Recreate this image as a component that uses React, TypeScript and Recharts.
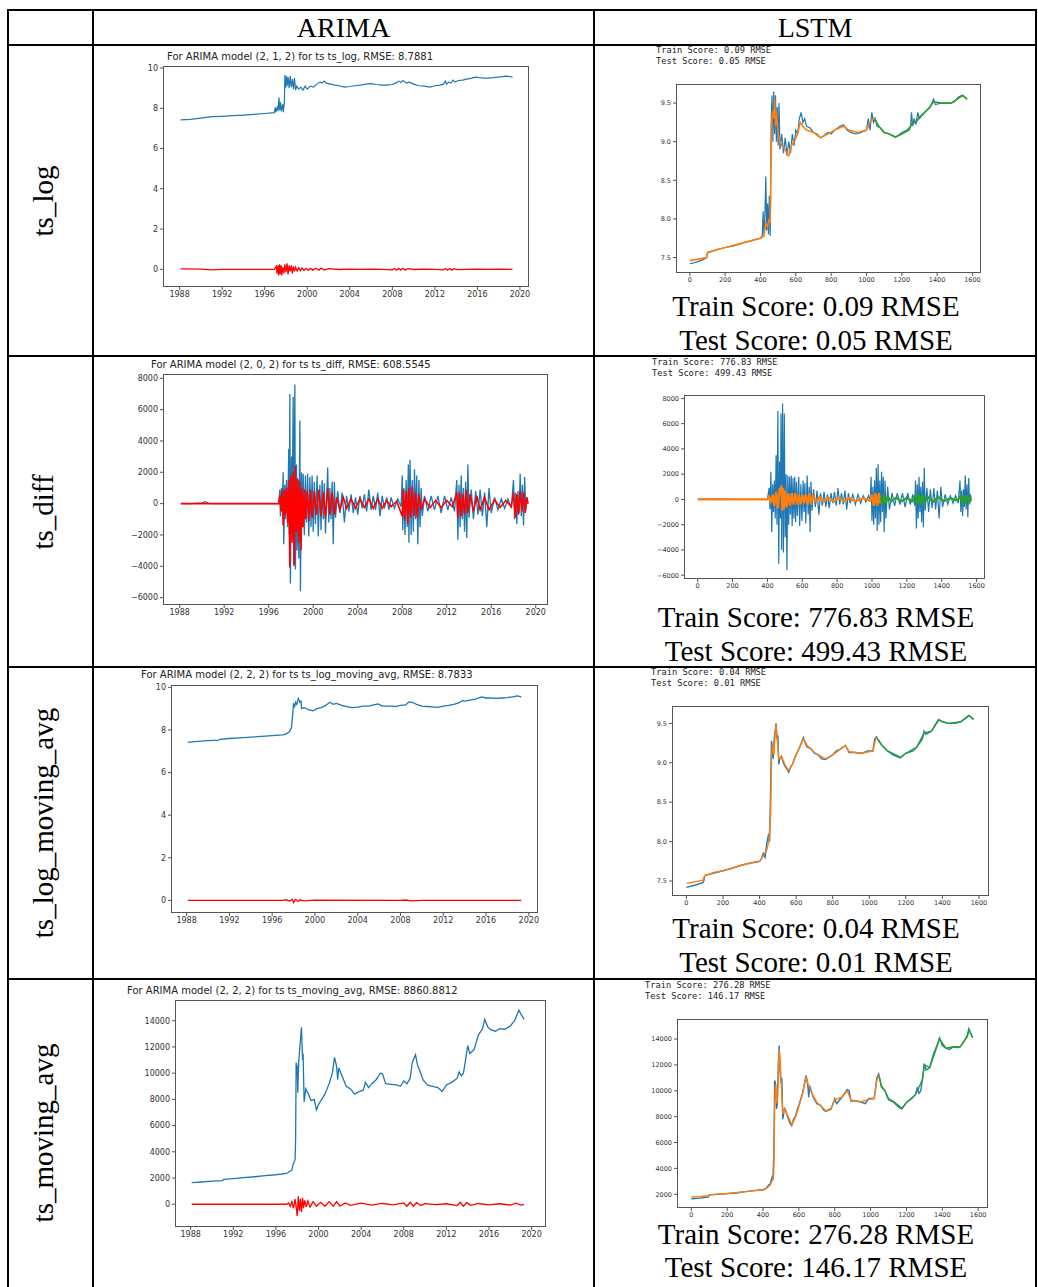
import { LineChart, Line, XAxis, YAxis } from 'recharts'

type Pt = [number, number]

const BLUE = '#1f77b4'
const ORANGE = '#ff7f0e'
const GREEN = '#2ca02c'
const RED = '#ff0000'

// table labels
const columnNames = ['ARIMA', 'LSTM']
const rowNames = ['ts_log', 'ts_diff', 'ts_log_moving_avg', 'ts_moving_avg']
const arimaTitles = [
  'For ARIMA model (2, 1, 2) for ts ts_log, RMSE: 8.7881',
  'For ARIMA model (2, 0, 2) for ts ts_diff, RMSE: 608.5545',
  'For ARIMA model (2, 2, 2) for ts ts_log_moving_avg, RMSE: 8.7833',
  'For ARIMA model (2, 2, 2) for ts ts_moving_avg, RMSE: 8860.8812',
]
const trainScores = ['0.09', '776.83', '0.04', '276.28']
const testScores = ['0.05', '499.43', '0.01', '146.17']

// ticks
const yearTicks = [1988, 1992, 1996, 2000, 2004, 2008, 2012, 2016, 2020]
const indexTicks = [0, 200, 400, 600, 800, 1000, 1200, 1400, 1600]
const logTicks = [0, 2, 4, 6, 8, 10]
const diffTicks = [-6000, -4000, -2000, 0, 2000, 4000, 6000, 8000]
const lstmLogTicks = [7.5, 8.0, 8.5, 9.0, 9.5]
const priceTicks = [0, 2000, 4000, 6000, 8000, 10000, 12000, 14000]
const lstmPriceTicks = [2000, 4000, 6000, 8000, 10000, 12000, 14000]

// ---- row 1: ts_log
const arimaLogActual: Pt[] = [
  [1988.1, 7.42], [1989, 7.45], [1989.8, 7.5], [1990.5, 7.55], [1991, 7.58], [1992, 7.6], [1993, 7.63],
  [1994, 7.66], [1995, 7.7], [1996, 7.74], [1996.9, 7.78], [1997.0, 8.05], [1997.05, 7.8], [1997.2, 8.1],
  [1997.25, 7.85], [1997.35, 8.55], [1997.4, 7.9], [1997.5, 8.3], [1997.55, 7.85], [1997.7, 8.2],
  [1997.75, 7.8], [1997.85, 8.3], [1997.9, 9.65], [1997.95, 9.0], [1998.05, 9.6], [1998.1, 9.1],
  [1998.2, 9.55], [1998.3, 9.0], [1998.4, 9.6], [1998.5, 9.05], [1998.6, 9.45], [1998.7, 8.95],
  [1998.8, 9.5], [1998.9, 8.9], [1999.0, 9.1], [1999.2, 8.95], [1999.4, 9.05], [1999.6, 8.9],
  [1999.8, 9.1], [2000, 8.95], [2000.3, 9.1], [2000.6, 9.05], [2000.9, 9.2], [2001.2, 9.3],
  [2001.4, 9.25], [2001.6, 9.35], [2001.8, 9.25], [2002.2, 9.2], [2002.6, 9.15], [2003, 9.12],
  [2003.5, 9.05], [2004, 9.08], [2004.5, 9.12], [2005, 9.15], [2005.5, 9.2], [2006, 9.22],
  [2006.5, 9.18], [2007, 9.15], [2007.5, 9.15], [2008, 9.18], [2008.3, 9.25], [2008.6, 9.35],
  [2008.8, 9.28], [2009, 9.38], [2009.3, 9.25], [2009.6, 9.3], [2010, 9.2], [2010.5, 9.12],
  [2011, 9.1], [2011.5, 9.05], [2012, 9.12], [2012.5, 9.15], [2012.8, 9.2], [2013, 9.35],
  [2013.1, 9.2], [2013.3, 9.3], [2013.5, 9.25], [2013.7, 9.4], [2013.9, 9.3], [2014.2, 9.38],
  [2014.6, 9.4], [2015, 9.45], [2015.5, 9.5], [2015.8, 9.55], [2016.2, 9.52], [2016.6, 9.5],
  [2017, 9.5], [2017.5, 9.52], [2018, 9.55], [2018.5, 9.58], [2018.8, 9.6], [2019, 9.58], [2019.3, 9.55],
]
const arimaLogFitted: Pt[] = [
  [1988.1, 0.02], [1990, 0.01], [1991, -0.03], [1992, 0], [1996.9, 0], [1997.1, 0.15], [1997.15, -0.2],
  [1997.25, 0.2], [1997.3, -0.3], [1997.4, 0.25], [1997.45, -0.25], [1997.55, 0.2], [1997.6, -0.3],
  [1997.7, 0.1], [1997.8, -0.2], [1997.9, 0.25], [1998, -0.15], [1998.1, 0.3], [1998.2, -0.25],
  [1998.3, 0.2], [1998.4, -0.1], [1998.5, 0.2], [1998.6, -0.2], [1998.7, 0.15], [1998.8, -0.1],
  [1998.9, 0.1], [1999.05, -0.08], [1999.2, 0.08], [1999.35, -0.07], [1999.5, 0.06], [1999.7, -0.05],
  [1999.9, 0.05], [2000.1, -0.05], [2000.3, 0.05], [2000.5, -0.04], [2000.8, 0.05], [2001.1, -0.04],
  [2001.3, 0.06], [2001.6, -0.04], [2002, 0.03], [2003, -0.01], [2004, 0.01], [2005, 0], [2006, 0.01],
  [2007, 0], [2008, -0.03], [2008.2, 0.04], [2008.4, -0.04], [2008.6, 0.05], [2008.8, -0.04],
  [2009, 0.05], [2009.2, -0.03], [2009.5, 0.03], [2010, -0.01], [2011, 0.01], [2012, 0],
  [2012.8, -0.03], [2013, 0.04], [2013.2, -0.04], [2013.4, 0.04], [2013.6, -0.04], [2013.8, 0.03],
  [2014.1, -0.02], [2015, 0], [2016, 0.01], [2017, 0], [2018, 0.01], [2019, 0], [2019.3, 0.01],
]
const lstmLogActual: Pt[] = [
  [0, 7.42], [20, 7.43], [50, 7.45], [80, 7.48], [95, 7.5], [100, 7.57], [150, 7.6], [200, 7.63],
  [250, 7.65], [300, 7.69], [350, 7.72], [400, 7.75], [410, 7.78], [415, 8.1], [420, 7.8], [425, 8.05],
  [430, 8.55], [435, 7.85], [440, 8.2], [445, 7.8], [450, 8.3], [455, 7.78], [460, 9.2], [465, 9.6],
  [470, 9.0], [475, 9.65], [480, 9.1], [485, 9.6], [490, 9.0], [495, 9.45], [500, 8.95], [505, 9.5],
  [510, 8.9], [520, 9.1], [530, 8.85], [540, 9.05], [550, 8.82], [560, 9.0], [570, 8.85], [580, 9.1],
  [590, 8.95], [600, 9.15], [610, 9.1], [620, 9.3], [630, 9.38], [640, 9.25], [650, 9.3], [660, 9.2],
  [680, 9.18], [700, 9.12], [720, 9.1], [740, 9.05], [760, 9.08], [780, 9.12], [800, 9.1], [820, 9.15],
  [850, 9.2], [870, 9.22], [890, 9.15], [910, 9.12], [940, 9.1], [970, 9.12], [1000, 9.15], [1010, 9.3],
  [1020, 9.15], [1030, 9.38], [1040, 9.25], [1050, 9.3], [1060, 9.2], [1080, 9.18], [1100, 9.12],
  [1130, 9.1], [1160, 9.06], [1180, 9.08], [1200, 9.12], [1230, 9.15], [1250, 9.2], [1255, 9.38],
  [1262, 9.2], [1270, 9.3], [1280, 9.22], [1290, 9.38], [1300, 9.3], [1330, 9.38], [1360, 9.45],
  [1380, 9.55], [1390, 9.48], [1420, 9.5], [1450, 9.5], [1480, 9.5], [1500, 9.52], [1520, 9.58],
  [1540, 9.6], [1555, 9.58], [1570, 9.55],
]
const lstmLogTrain: Pt[] = [
  [0, 7.46], [50, 7.48], [95, 7.5], [100, 7.56], [150, 7.6], [200, 7.63], [300, 7.69], [400, 7.75],
  [420, 7.78], [430, 7.95], [440, 7.9], [450, 8.0], [455, 7.95], [460, 8.8], [465, 9.3], [470, 9.4],
  [475, 9.3], [480, 9.55], [485, 9.2], [490, 9.4], [500, 9.1], [510, 9.0], [520, 8.95], [540, 8.9],
  [550, 8.85], [560, 8.82], [575, 8.95], [590, 9.0], [610, 9.1], [625, 9.25], [640, 9.2], [660, 9.15],
  [700, 9.12], [740, 9.05], [780, 9.1], [820, 9.15], [870, 9.2], [900, 9.15], [950, 9.12], [1000, 9.15],
  [1020, 9.25], [1040, 9.3], [1045, 9.32],
]
const lstmLogTest: Pt[] = [
  [1050, 9.28], [1070, 9.2], [1100, 9.12], [1130, 9.1], [1165, 9.06], [1200, 9.1], [1240, 9.15],
  [1260, 9.25], [1280, 9.25], [1300, 9.32], [1330, 9.38], [1360, 9.45], [1380, 9.52], [1420, 9.5],
  [1480, 9.5], [1520, 9.56], [1545, 9.6], [1570, 9.55],
]

// ---- row 2: ts_diff
const arimaDiffActual: Pt[] = [
  [1988.1, 0], [1989, 0], [1990, 50], [1990.3, 120], [1990.6, 20], [1991, 0], [1996.9, 0],
  [1997.0, 900], [1997.05, -800], [1997.15, 1000], [1997.2, -500], [1997.3, 2000], [1997.35, -2600],
  [1997.45, 1200], [1997.5, -1000], [1997.6, 1500], [1997.7, -1500], [1997.8, 3500], [1997.85, -2000],
  [1997.9, 7000], [1997.95, -5100], [1998.05, 3000], [1998.1, -1500], [1998.2, 6800], [1998.25, -4000],
  [1998.35, 7600], [1998.4, -4200], [1998.5, 2500], [1998.55, -3000], [1998.65, 1500], [1998.7, -3500],
  [1998.8, 5300], [1998.85, -5600], [1998.95, 2000], [1999.0, -1500], [1999.1, 1900], [1999.2, -2000],
  [1999.3, 1800], [1999.4, -1200], [1999.5, 1900], [1999.6, -2100], [1999.7, 1700], [1999.8, -1500],
  [1999.9, 1800], [2000, -1800], [2000.1, 1400], [2000.2, -1300], [2000.35, 1800], [2000.45, -2100],
  [2000.6, 1200], [2000.7, -1700], [2000.8, 1500], [2000.9, -1000], [2001.0, 1300], [2001.1, -1900],
  [2001.3, 2300], [2001.4, -1200], [2001.5, 1000], [2001.6, -1000], [2001.7, 1400], [2001.8, -2600],
  [2001.9, 1400], [2002.0, -900], [2002.2, 800], [2002.4, -600], [2002.6, 700], [2002.8, -1200],
  [2003, 500], [2003.2, -500], [2003.4, 600], [2003.6, -600], [2003.8, 400], [2004, -700], [2004.2, 500],
  [2004.4, -300], [2004.6, 600], [2004.8, -500], [2005.0, 900], [2005.2, -400], [2005.4, 500],
  [2005.6, -400], [2005.8, 700], [2006, -800], [2006.2, 500], [2006.4, -300], [2006.6, 400],
  [2006.8, -400], [2007, 400], [2007.3, -300], [2007.6, 300], [2007.9, -200], [2008.0, 1800],
  [2008.05, -1700], [2008.15, 1000], [2008.25, -2000], [2008.35, 1500], [2008.45, -1500], [2008.55, 2500],
  [2008.6, -2500], [2008.7, 2800], [2008.8, -2000], [2008.9, 1500], [2009.0, -1800], [2009.1, 2200],
  [2009.2, -1000], [2009.3, 1800], [2009.4, -2600], [2009.5, 1500], [2009.6, -1500], [2009.7, 1000],
  [2009.8, -800], [2010, 500], [2010.3, -500], [2010.6, 500], [2010.9, -400], [2011.2, 500],
  [2011.5, -600], [2011.8, 500], [2012.1, -400], [2012.4, 400], [2012.7, -500], [2012.9, 1500],
  [2013.0, -2300], [2013.1, 1200], [2013.2, -1500], [2013.3, 1800], [2013.4, -1000], [2013.5, 1000],
  [2013.6, -1800], [2013.7, 1400], [2013.8, -2200], [2013.9, 2500], [2014.0, -900], [2014.2, 900],
  [2014.4, -1000], [2014.6, 800], [2014.8, -700], [2015, 900], [2015.2, -800], [2015.4, 700],
  [2015.6, -1500], [2015.8, 1000], [2016, -600], [2016.3, 400], [2016.6, -400], [2016.9, 300],
  [2017.2, -300], [2017.5, 300], [2017.8, -300], [2018.0, 1500], [2018.1, -1000], [2018.2, 700],
  [2018.3, -1300], [2018.4, 800], [2018.5, -600], [2018.6, 1900], [2018.7, -800], [2018.8, 1200],
  [2018.9, -1400], [2019.0, 1700], [2019.1, -400], [2019.2, 400], [2019.3, 0],
]
const arimaDiffFitted: Pt[] = [
  [1988.1, 0], [1996.9, 0], [1997.0, 500], [1997.1, -500], [1997.2, 800], [1997.3, -1400], [1997.4, 900],
  [1997.5, -700], [1997.6, 1000], [1997.7, -1200], [1997.8, 1500], [1997.9, -4100], [1998.0, 1800],
  [1998.1, -2500], [1998.2, 2000], [1998.3, -3900], [1998.4, 2400], [1998.5, -1800], [1998.6, 1600],
  [1998.7, -2500], [1998.8, 1400], [1998.9, -3000], [1999.0, 1000], [1999.1, -1500], [1999.2, 900],
  [1999.3, -1000], [1999.45, 800], [1999.6, -1100], [1999.75, 900], [1999.9, -900], [2000.1, 800],
  [2000.3, -700], [2000.5, 900], [2000.7, -800], [2000.9, 700], [2001.1, -900], [2001.3, 1000],
  [2001.5, -700], [2001.7, 700], [2001.9, -700], [2002.1, 400], [2002.4, -400], [2002.7, 400],
  [2003, -300], [2003.4, 300], [2003.8, -300], [2004.2, 300], [2004.6, -250], [2005, 300], [2005.4, -300],
  [2005.8, 300], [2006.2, -300], [2006.6, 200], [2007, -200], [2007.5, 150], [2008.0, -800], [2008.1, 900],
  [2008.2, -1000], [2008.35, 800], [2008.5, -1300], [2008.6, 1000], [2008.75, -900], [2008.9, 1100],
  [2009.05, -800], [2009.2, 700], [2009.35, -900], [2009.5, 600], [2009.7, -400], [2010, 300],
  [2010.5, -250], [2011, 200], [2011.5, -250], [2012, 200], [2012.5, -200], [2012.9, 700], [2013.0, -900],
  [2013.15, 700], [2013.3, -800], [2013.45, 600], [2013.6, -700], [2013.75, 900], [2013.9, -600],
  [2014.1, 600], [2014.4, -500], [2014.7, 500], [2015, -400], [2015.4, 400], [2015.8, -400],
  [2016.3, 250], [2016.8, -250], [2017.3, 200], [2017.8, -200], [2018.0, 700], [2018.15, -900],
  [2018.3, 600], [2018.45, -700], [2018.6, 800], [2018.75, -500], [2018.9, 700], [2019.05, -600],
  [2019.2, 400], [2019.3, 0],
]
const lstmDiffActual: Pt[] = [
  [0, 0], [100, 50], [200, 0], [300, 0], [400, 0], [410, 900], [415, -800], [420, 2200], [425, -2600],
  [430, 1200], [435, -1000], [440, 1500], [445, -1500], [450, 3500], [455, -2000], [460, 7000],
  [465, -5100], [470, 3000], [475, -1500], [478, 6800], [482, -4000], [487, 7600], [492, -4200],
  [497, 6800], [502, -3000], [507, 2000], [512, -5600], [517, 1900], [522, -2000], [527, 1800],
  [532, -1200], [537, 1900], [542, -2100], [547, 1700], [552, -1500], [557, 1800], [562, -1800],
  [567, 1400], [572, -1300], [580, 1800], [585, -2100], [592, 1200], [598, -1700], [605, 1500],
  [610, -1000], [615, 1300], [620, -1900], [628, 1900], [634, -1200], [640, 1000], [645, -2600],
  [650, 1400], [656, -900], [665, 800], [675, -600], [685, 700], [695, -1200], [705, 500], [715, -500],
  [725, 600], [735, -600], [745, 400], [755, -700], [765, 500], [775, -300], [785, 600], [795, -500],
  [805, 900], [815, -400], [825, 500], [835, -400], [845, 700], [855, -800], [865, 500], [875, -300],
  [890, 400], [905, -400], [920, 400], [935, -300], [950, 300], [965, -200], [980, 300], [990, -100],
  [995, 1800], [1000, -1700], [1005, 1000], [1010, -2000], [1015, 1500], [1020, -1500], [1025, 2500],
  [1030, -2500], [1035, 2800], [1040, -2000], [1045, 1500], [1050, -1800], [1055, 2200], [1060, -1000],
  [1065, 1800], [1070, -2600], [1075, 1500], [1080, -1500], [1090, 1000], [1100, -800], [1115, 500],
  [1130, -500], [1145, 500], [1160, -400], [1175, 500], [1190, -600], [1205, 500], [1220, -400],
  [1235, 400], [1245, -500], [1250, 1500], [1255, -2300], [1260, 1200], [1265, -1500], [1270, 1800],
  [1275, -1000], [1280, 1000], [1285, -1800], [1290, 1400], [1295, -2200], [1300, 2500], [1305, -900],
  [1315, 900], [1325, -1000], [1335, 800], [1345, -700], [1355, 900], [1365, -800], [1375, 700],
  [1385, -1500], [1395, 1000], [1405, -600], [1420, 400], [1435, -400], [1450, 300], [1465, -300],
  [1480, 300], [1495, -300], [1505, 1500], [1510, -1000], [1515, 700], [1520, -1300], [1525, 800],
  [1530, -600], [1535, 1900], [1540, -800], [1545, 1200], [1550, -1400], [1555, 1700], [1560, -400],
  [1565, 400], [1570, 0],
]
const lstmDiffTrain: Pt[] = [
  [0, 0], [400, 0], [410, 200], [420, -300], [430, 400], [440, -500], [450, 600], [460, -700],
  [470, 800], [480, 1000], [485, -900], [490, 900], [495, -800], [500, 700], [510, -600], [520, 500],
  [530, -500], [540, 500], [550, -400], [560, 500], [570, -400], [580, 400], [590, -400], [600, 400],
  [610, -300], [620, 400], [630, -400], [640, 500], [650, -400], [660, 300], [680, -200], [700, 200],
  [720, -200], [750, 150], [780, -150], [810, 150], [840, -150], [870, 150], [900, -150], [950, 100],
  [990, -100], [1000, 400], [1010, -500], [1020, 500], [1030, -500], [1040, 500], [1048, -300],
]
const lstmDiffTest: Pt[] = [
  [1050, 200], [1060, -400], [1070, 400], [1080, -300], [1090, 250], [1110, -150], [1140, 150],
  [1170, -150], [1200, 150], [1230, -150], [1250, 300], [1260, -400], [1270, 400], [1280, -400],
  [1290, 400], [1300, -300], [1320, 200], [1350, -200], [1380, 200], [1410, -150], [1450, 100],
  [1490, -100], [1510, 300], [1520, -400], [1530, 300], [1540, -300], [1550, 350], [1560, -200], [1570, 0],
]

// ---- row 3: ts_log_moving_avg
const arimaLogMaActual: Pt[] = [
  [1988.1, 7.42], [1989, 7.46], [1990, 7.5], [1991, 7.52], [1991.1, 7.56], [1992, 7.6], [1993, 7.63],
  [1994, 7.66], [1995, 7.7], [1996, 7.73], [1997, 7.77], [1997.3, 7.82], [1997.6, 7.9], [1997.8, 8.1],
  [1997.9, 8.6], [1998.0, 9.25], [1998.1, 9.1], [1998.2, 9.3], [1998.3, 9.2], [1998.45, 9.48],
  [1998.6, 9.3], [1998.7, 9.35], [1998.75, 9.0], [1999, 9.05], [1999.4, 8.95], [1999.8, 8.9],
  [2000.2, 9.0], [2000.6, 9.05], [2001, 9.15], [2001.4, 9.3], [2001.7, 9.2], [2002, 9.25],
  [2002.5, 9.15], [2003, 9.1], [2003.5, 9.05], [2004, 9.07], [2004.5, 9.12], [2005, 9.12],
  [2005.5, 9.18], [2005.9, 9.22], [2006.3, 9.12], [2007, 9.12], [2007.5, 9.1], [2008, 9.15],
  [2008.5, 9.18], [2008.8, 9.32], [2009.1, 9.3], [2009.5, 9.2], [2010, 9.12], [2010.5, 9.1],
  [2011, 9.08], [2011.5, 9.06], [2012, 9.12], [2012.5, 9.15], [2013, 9.2], [2013.5, 9.28],
  [2013.8, 9.38], [2014, 9.35], [2014.5, 9.4], [2015, 9.45], [2015.6, 9.55], [2016, 9.5],
  [2016.5, 9.5], [2017, 9.48], [2017.5, 9.5], [2018, 9.52], [2018.5, 9.55], [2018.9, 9.6], [2019.3, 9.55],
]
const arimaLogMaFitted: Pt[] = [
  [1988.1, 0], [1997, 0], [1997.3, 0.03], [1997.6, -0.03], [1997.9, 0.05], [1998.0, -0.1],
  [1998.2, 0.05], [1998.4, -0.05], [1998.6, 0.03], [1999, -0.02], [2000, 0.01], [2008, 0],
  [2008.5, 0.02], [2009, -0.02], [2010, 0], [2019.3, 0],
]
const lstmLogMaActual: Pt[] = [
  [0, 7.42], [50, 7.45], [90, 7.48], [95, 7.5], [100, 7.57], [150, 7.6], [200, 7.63], [250, 7.66],
  [300, 7.7], [350, 7.73], [400, 7.75], [410, 7.78], [420, 7.85], [430, 7.8], [440, 7.98], [450, 8.1],
  [455, 8.0], [460, 8.6], [465, 9.28], [470, 9.1], [475, 9.05], [480, 9.3], [485, 9.4], [490, 9.5],
  [495, 9.3], [500, 9.35], [505, 8.98], [510, 9.05], [520, 9.08], [530, 9.0], [540, 8.95], [550, 8.92],
  [560, 8.88], [570, 8.95], [580, 8.98], [590, 9.05], [600, 9.1], [620, 9.2], [640, 9.32], [650, 9.25],
  [660, 9.2], [680, 9.18], [700, 9.12], [720, 9.1], [740, 9.05], [760, 9.04], [780, 9.07], [800, 9.1],
  [820, 9.15], [840, 9.17], [870, 9.22], [890, 9.13], [920, 9.13], [960, 9.12], [990, 9.15],
  [1020, 9.15], [1030, 9.3], [1040, 9.33], [1050, 9.28], [1070, 9.22], [1100, 9.15], [1130, 9.1],
  [1170, 9.06], [1200, 9.12], [1240, 9.15], [1260, 9.2], [1290, 9.3], [1300, 9.4], [1310, 9.36],
  [1340, 9.4], [1360, 9.48], [1380, 9.55], [1400, 9.52], [1430, 9.5], [1470, 9.5], [1500, 9.52],
  [1530, 9.57], [1545, 9.6], [1560, 9.57], [1570, 9.55],
]
const lstmLogMaTrain: Pt[] = [
  [0, 7.47], [50, 7.49], [90, 7.51], [100, 7.57], [150, 7.61], [200, 7.63], [300, 7.7], [400, 7.75],
  [420, 7.82], [440, 7.9], [450, 8.0], [460, 8.3], [465, 9.0], [470, 9.25], [478, 9.1], [485, 9.35],
  [490, 9.48], [495, 9.35], [505, 9.05], [520, 9.08], [540, 8.97], [560, 8.9], [580, 8.98], [600, 9.1],
  [640, 9.3], [660, 9.22], [700, 9.13], [760, 9.05], [800, 9.1], [870, 9.22], [890, 9.14], [960, 9.12],
  [1020, 9.15], [1035, 9.3], [1045, 9.32],
]
const lstmLogMaTest: Pt[] = [
  [1048, 9.3], [1070, 9.22], [1100, 9.15], [1170, 9.07], [1200, 9.12], [1260, 9.2], [1300, 9.38],
  [1340, 9.4], [1380, 9.54], [1430, 9.5], [1500, 9.52], [1545, 9.6], [1570, 9.55],
]

// ---- row 4: ts_moving_avg
const arimaMaActual: Pt[] = [
  [1988.1, 1650], [1989, 1700], [1990, 1760], [1991, 1800], [1991.1, 1900], [1992, 1960], [1993, 2030],
  [1994, 2100], [1995, 2180], [1996, 2250], [1997, 2350], [1997.3, 2500], [1997.5, 2600], [1997.6, 3000],
  [1997.8, 3400], [1997.85, 5000], [1997.9, 10800], [1998.0, 10500], [1998.05, 8500], [1998.15, 11000],
  [1998.3, 12500], [1998.4, 13500], [1998.5, 11000], [1998.55, 11500], [1998.65, 7800], [1998.8, 8800],
  [1999, 8500], [1999.3, 7900], [1999.6, 8000], [1999.8, 7200], [2000.0, 7600], [2000.3, 8000],
  [2000.6, 8400], [2001, 9200], [2001.3, 10000], [2001.5, 11200], [2001.7, 10500], [2001.8, 9500],
  [2001.9, 10400], [2002.2, 9800], [2002.6, 9000], [2003, 8800], [2003.4, 8400], [2003.8, 8600],
  [2004.2, 8700], [2004.4, 9300], [2004.7, 8900], [2005, 9200], [2005.4, 9500], [2005.8, 10000],
  [2006, 9950], [2006.3, 9200], [2006.8, 9150], [2007.3, 9100], [2007.7, 9000], [2008, 9400],
  [2008.3, 9200], [2008.6, 9600], [2008.8, 10800], [2009.1, 11400], [2009.3, 10600], [2009.5, 10200],
  [2009.8, 9500], [2010.2, 9100], [2010.7, 9000], [2011.2, 8900], [2011.6, 8600], [2012, 9100],
  [2012.5, 9300], [2013, 9600], [2013.2, 10100], [2013.4, 9800], [2013.6, 10000], [2013.8, 11000],
  [2014.0, 12100], [2014.2, 11500], [2014.6, 11800], [2015, 12900], [2015.4, 13400], [2015.6, 14100],
  [2015.9, 13500], [2016.2, 13300], [2016.6, 13200], [2017, 13400], [2017.5, 13350], [2018, 13600],
  [2018.4, 14000], [2018.8, 14800], [2019.0, 14500], [2019.3, 14100],
]
const arimaMaFitted: Pt[] = [
  [1988.1, 0], [1997, 0], [1997.2, 100], [1997.35, -150], [1997.5, 200], [1997.65, -300], [1997.8, 400],
  [1997.9, -200], [1998.0, -900], [1998.1, 600], [1998.2, -500], [1998.3, 400], [1998.4, -600],
  [1998.5, 500], [1998.6, -300], [1998.7, 300], [1998.85, -200], [1999, 250], [1999.2, -200],
  [1999.5, 200], [1999.8, -150], [2000.2, 150], [2000.6, -150], [2001, 200], [2001.4, -150],
  [2001.7, 200], [2002, -150], [2002.5, 100], [2003, -80], [2004, 80], [2005, -60], [2006, 60],
  [2007, -40], [2008, 100], [2008.3, -150], [2008.6, 150], [2008.9, -150], [2009.2, 120], [2009.6, -100],
  [2010, 50], [2011, -30], [2012, 40], [2013, -100], [2013.3, 150], [2013.6, -150], [2013.9, 120],
  [2014.3, -80], [2015, 60], [2016, -50], [2017, 40], [2018, -60], [2018.5, 80], [2019, -60], [2019.3, 0],
]
const lstmMaActual: Pt[] = [
  [0, 1650], [50, 1700], [95, 1800], [100, 1950], [150, 2000], [200, 2050], [250, 2100], [300, 2200],
  [350, 2280], [400, 2350], [410, 2400], [420, 2500], [430, 2700], [440, 2800], [450, 3300], [455, 3100],
  [460, 5000], [465, 10800], [470, 10500], [475, 8600], [480, 9000], [485, 12000], [490, 13500],
  [495, 11500], [500, 10600], [505, 11000], [510, 7800], [520, 8700], [530, 8300], [540, 7900],
  [550, 7500], [560, 7300], [570, 7800], [580, 8000], [590, 8500], [600, 8900], [620, 9800],
  [640, 11200], [650, 10400], [655, 9500], [660, 10400], [680, 9500], [700, 9000], [720, 8900],
  [740, 8500], [750, 8400], [780, 8600], [800, 9400], [810, 9000], [840, 9500], [870, 10100],
  [880, 10000], [890, 9200], [920, 9200], [950, 9100], [970, 9000], [990, 9400], [1020, 9400],
  [1035, 11000], [1045, 11300], [1050, 11000], [1060, 10300], [1080, 10000], [1100, 9300], [1130, 9100],
  [1160, 8700], [1175, 8600], [1200, 9100], [1230, 9400], [1250, 9700], [1260, 10200], [1270, 9800],
  [1280, 10000], [1290, 11000], [1300, 12100], [1310, 11600], [1330, 11800], [1350, 12800],
  [1370, 13500], [1385, 14100], [1400, 13500], [1420, 13300], [1440, 13200], [1460, 13400],
  [1480, 13350], [1500, 13400], [1520, 13800], [1540, 14300], [1548, 14800], [1560, 14400], [1570, 14100],
]
const lstmMaTrain: Pt[] = [
  [0, 1800], [50, 1830], [95, 1880], [100, 1950], [200, 2060], [300, 2200], [400, 2350], [420, 2450],
  [440, 2700], [455, 3200], [460, 3600], [465, 9000], [470, 10500], [478, 9000], [485, 11000],
  [490, 13200], [495, 12500], [500, 11000], [510, 8200], [520, 8600], [540, 8000], [560, 7400],
  [580, 7900], [600, 8800], [620, 9700], [640, 11100], [650, 10600], [660, 10200], [680, 9600],
  [700, 9100], [740, 8600], [750, 8450], [780, 8650], [800, 9300], [840, 9500], [870, 10000],
  [890, 9300], [950, 9150], [990, 9350], [1020, 9400], [1035, 10800], [1045, 11200],
]
const lstmMaTest: Pt[] = [
  [1048, 11100], [1060, 10400], [1080, 10000], [1100, 9400], [1130, 9150], [1175, 8650], [1200, 9100],
  [1250, 9700], [1265, 10100], [1290, 10900], [1300, 12000], [1330, 11800], [1370, 13400],
  [1385, 14000], [1420, 13300], [1460, 13400], [1500, 13400], [1540, 14200], [1548, 14700], [1570, 14100],
]

const toPoints = (pts: Pt[]) => pts.map(([x, y]) => ({ x, y }))
const minus = (v: number) => (v < 0 ? '\u2212' + Math.abs(v) : String(v))

type Frame = { x: number; y: number; w: number; h: number }
type Series = { data: Pt[]; color: string; width: number }

function Panel({ frame, xDomain, yDomain, xTicks, yTicks, series, fontSize, yFmt }: {
  frame: Frame; xDomain: [number, number]; yDomain: [number, number]; xTicks: number[]; yTicks: number[]
  series: Series[]; fontSize: number; yFmt?: (v: number) => string
}) {
  const YW = 44, XH = 18, PAD = 8
  const tick = { fontSize, fill: '#333', fontFamily: 'DejaVu Sans' }
  return (
    <div style={{ position: 'absolute', left: frame.x - YW, top: frame.y - PAD }}>
      <LineChart width={frame.w + YW + PAD} height={frame.h + PAD + XH} margin={{ top: PAD, right: PAD, left: 0, bottom: 0 }}>
        <XAxis dataKey="x" type="number" domain={xDomain} allowDataOverflow ticks={xTicks} interval={0}
          axisLine={false} tickSize={3} tickMargin={1} tickLine={{ stroke: '#555' }} tick={tick} height={XH} />
        <YAxis type="number" domain={yDomain} allowDataOverflow ticks={yTicks} interval={0} width={YW}
          axisLine={false} tickSize={3} tickMargin={2} tickLine={{ stroke: '#555' }} tick={tick} tickFormatter={yFmt} />
        {series.map((s, i) => (
          <Line key={i} data={toPoints(s.data)} dataKey="y" type="linear" stroke={s.color} strokeWidth={s.width}
            dot={false} activeDot={false} isAnimationActive={false} />
        ))}
      </LineChart>
      <div style={{ position: 'absolute', left: YW, top: PAD, width: frame.w, height: frame.h, border: '1px solid #555', boxSizing: 'border-box', pointerEvents: 'none' }} />
    </div>
  )
}

const rowTops = [45, 356, 667, 979]
const hLines = [10, 45, 356, 667, 979]
const vLines = [8, 93, 594, 1036]

const serif = '"Liberation Serif", "Times New Roman", serif'
const mono = '"DejaVu Sans Mono", monospace'

function Title({ x, y, text }: { x: number; y: number; text: string }) {
  return <div style={{ position: 'absolute', left: x, top: y - 6, fontSize: 10, lineHeight: '12px', fontFamily: 'DejaVu Sans', color: '#222', whiteSpace: 'nowrap' }}>{text}</div>
}

function Scores({ x, y, train, test }: { x: number; y: number; train: string; test: string }) {
  return (
    <div style={{ position: 'absolute', left: x, top: y - 6, fontSize: 8.7, lineHeight: '11.3px', fontFamily: mono, color: '#222', whiteSpace: 'pre' }}>
      {`Train Score: ${train} RMSE\nTest Score: ${test} RMSE`}
    </div>
  )
}

export default function App() {
  const logFmt = (v: number) => v.toFixed(1)
  return (
    <div style={{ position: 'absolute', left: 0, top: 0, width: 1038, height: 1287, overflow: 'hidden', background: '#fff' }}>
      {hLines.map((y) => (
        <div key={'h' + y} style={{ position: 'absolute', left: vLines[0] - 1, top: y - 1, width: vLines[3] - vLines[0] + 2, height: 2, background: '#000' }} />
      ))}
      {vLines.map((x) => (
        <div key={'v' + x} style={{ position: 'absolute', left: x - 1, top: hLines[0] - 1, width: 2, height: 1287 - hLines[0] + 1, background: '#000' }} />
      ))}
      {columnNames.map((c, i) => (
        <div key={c} style={{ position: 'absolute', left: vLines[i + 1], width: vLines[i + 2] - vLines[i + 1], top: 11, height: 34, lineHeight: '34px', textAlign: 'center', fontFamily: serif, fontSize: 28 }}>{c}</div>
      ))}
      {rowNames.map((r, i) => (
        <div key={r} style={{ position: 'absolute', left: 43, top: (hLines[i + 1] + (hLines[i + 2] ?? 1287)) / 2, transform: 'translate(-50%, -50%) rotate(-90deg)', fontFamily: serif, fontSize: 29, whiteSpace: 'nowrap' }}>{r}</div>
      ))}
      {rowTops.map((t, i) => (
        <div key={'cap' + i} style={{ position: 'absolute', left: 594, width: 444, top: t + 244 - (i === 3 ? 5 : 0), textAlign: 'center', fontFamily: serif, fontSize: 29, lineHeight: i === 3 ? '33px' : '34px', whiteSpace: 'nowrap' }}>
          <div>Train Score: {trainScores[i]} RMSE</div>
          <div>Test Score: {testScores[i]} RMSE</div>
        </div>
      ))}

      {/* row 1 */}
      <Title x={167} y={57} text={arimaTitles[0]} />
      <Panel frame={{ x: 163, y: 66, w: 366, h: 221 }} xDomain={[1986.44, 2020.85]} yDomain={[-0.88, 10.1]}
        xTicks={yearTicks} yTicks={logTicks} fontSize={8}
        series={[{ data: arimaLogActual, color: BLUE, width: 1.2 }, { data: arimaLogFitted, color: RED, width: 1.3 }]} />
      <Scores x={656} y={51} train={trainScores[0]} test={testScores[0]} />
      <Panel frame={{ x: 676, y: 84, w: 305, h: 189 }} xDomain={[-78.5, 1648.5]} yDomain={[7.3, 9.747]}
        xTicks={indexTicks} yTicks={lstmLogTicks} fontSize={6.5} yFmt={logFmt}
        series={[{ data: lstmLogActual, color: BLUE, width: 1.2 }, { data: lstmLogTrain, color: ORANGE, width: 1.6 }, { data: lstmLogTest, color: GREEN, width: 1.6 }]} />

      {/* row 2 */}
      <Title x={151} y={365} text={arimaTitles[1]} />
      <Panel frame={{ x: 163, y: 374, w: 385, h: 231 }} xDomain={[1986.5, 2021.1]} yDomain={[-6472, 8274]}
        xTicks={yearTicks} yTicks={diffTicks} fontSize={8} yFmt={minus}
        series={[{ data: arimaDiffActual, color: BLUE, width: 1.3 }, { data: arimaDiffFitted, color: RED, width: 1.6 }]} />
      <Scores x={652} y={363} train={trainScores[1]} test={testScores[1]} />
      <Panel frame={{ x: 684, y: 395, w: 301, h: 184 }} xDomain={[-78.5, 1648.5]} yDomain={[-6300, 8270]}
        xTicks={indexTicks} yTicks={diffTicks} fontSize={6.5} yFmt={minus}
        series={[{ data: lstmDiffActual, color: BLUE, width: 1.2 }, { data: lstmDiffTrain, color: ORANGE, width: 2.2 }, { data: lstmDiffTest, color: GREEN, width: 2.2 }]} />

      {/* row 3 */}
      <Title x={141} y={675} text={arimaTitles[2]} />
      <Panel frame={{ x: 171, y: 685, w: 367, h: 228 }} xDomain={[1986.54, 2020.86]} yDomain={[-0.59, 10.11]}
        xTicks={yearTicks} yTicks={logTicks} fontSize={8}
        series={[{ data: arimaLogMaActual, color: BLUE, width: 1.3 }, { data: arimaLogMaFitted, color: RED, width: 1.3 }]} />
      <Scores x={651} y={673} train={trainScores[2]} test={testScores[2]} />
      <Panel frame={{ x: 672, y: 706, w: 317, h: 190 }} xDomain={[-79, 1655]} yDomain={[7.31, 9.72]}
        xTicks={indexTicks} yTicks={lstmLogTicks} fontSize={6.5} yFmt={logFmt}
        series={[{ data: lstmLogMaActual, color: BLUE, width: 1.4 }, { data: lstmLogMaTrain, color: ORANGE, width: 1.4 }, { data: lstmLogMaTest, color: GREEN, width: 1.4 }]} />

      {/* row 4 */}
      <Title x={127} y={991} text={arimaTitles[3]} />
      <Panel frame={{ x: 175, y: 1000, w: 371, h: 227 }} xDomain={[1986.53, 2021.35]} yDomain={[-1734, 15581]}
        xTicks={yearTicks} yTicks={priceTicks} fontSize={8}
        series={[{ data: arimaMaActual, color: BLUE, width: 1.3 }, { data: arimaMaFitted, color: RED, width: 1.3 }]} />
      <Scores x={645} y={986} train={trainScores[3]} test={testScores[3]} />
      <Panel frame={{ x: 677, y: 1019, w: 311, h: 189 }} xDomain={[-80, 1655]} yDomain={[937, 15551]}
        xTicks={indexTicks} yTicks={lstmPriceTicks} fontSize={6.5}
        series={[{ data: lstmMaActual, color: BLUE, width: 1.4 }, { data: lstmMaTrain, color: ORANGE, width: 1.4 }, { data: lstmMaTest, color: GREEN, width: 1.4 }]} />
    </div>
  )
}
